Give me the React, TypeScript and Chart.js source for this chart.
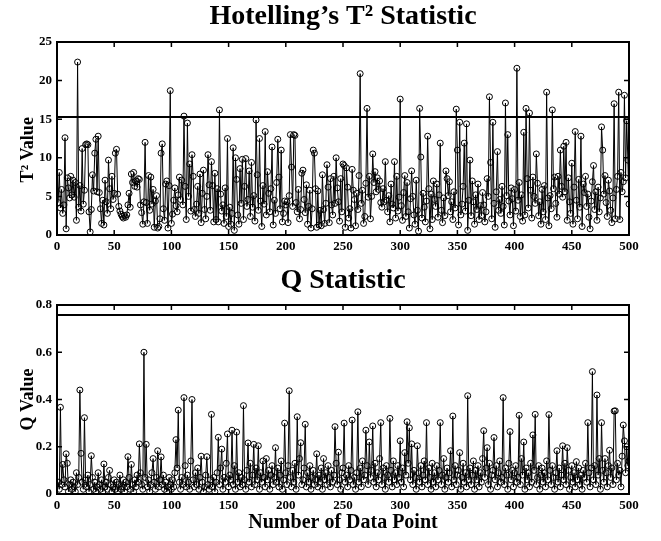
import React, { useEffect, useRef } from "react";
import { Chart, registerables } from "chart.js";

Chart.register(...registerables);

const FONT = "'Liberation Serif', 'Times New Roman', Times, serif";

const T2_TITLE = "Hotelling\u2019s T\u00B2 Statistic";
const Q_TITLE = "Q Statistic";
const T2_YLABEL = "T\u00B2 Value\u00A0\u00A0\u00A0\u00A0\u00A0";
const Q_YLABEL = "Q Value";
const X_LABEL = "Number of Data Point";

const X_MIN = 0;
const X_MAX = 500;
const X_STEP = 50;

const T2_LIMIT = 15.3;
const Q_LIMIT = 0.758;

const T2_VALUES = [
  4.2, 8.1, 3.5, 5.9, 2.8, 3.9, 12.6, 0.8, 7.4, 6.1,
  4.8, 7.6, 5.2, 7.1, 4.9, 6.8, 1.9, 22.4, 3.6, 6.4,
  3.1, 11.2, 4.0, 5.8, 11.7, 11.8, 11.7, 3.0, 0.4, 3.3,
  7.8, 5.7, 10.6, 12.4, 5.6, 12.8, 5.5, 3.4, 1.5, 4.5,
  1.3, 7.1, 4.3, 2.8, 9.7, 6.0, 3.4, 7.6, 4.6, 5.4,
  10.6, 11.1, 5.3, 3.7, 3.1, 2.7, 2.4, 2.2, 2.5, 2.3,
  2.6, 3.9, 5.4, 3.6, 7.9, 6.8, 8.1, 6.3, 7.0, 6.2,
  7.3, 7.2, 3.9, 2.9, 1.4, 4.3, 12.0, 4.2, 1.5, 7.7,
  3.2, 7.5, 4.0, 5.9, 1.0, 4.4, 5.1, 0.9, 1.1, 2.1,
  10.6, 11.8, 3.4, 1.9, 6.6, 7.0, 0.9, 6.4, 18.7, 1.5,
  2.7, 4.5, 6.1, 3.8, 3.0, 5.2, 7.5, 4.6, 7.1, 3.9,
  15.4, 6.3, 2.0, 14.5, 5.0, 9.2, 3.1, 10.4, 7.6, 3.3,
  2.4, 4.0, 6.3, 2.8, 7.9, 1.6, 5.4, 8.4, 3.3, 2.1,
  5.0, 10.4, 6.5, 3.2, 9.5, 6.4, 1.7, 8.0, 2.0, 6.0,
  1.7, 16.2, 5.3, 3.1, 3.9, 1.5, 6.1, 2.4, 12.5, 1.1,
  3.6, 1.4, 2.8, 11.3, 0.6, 10.0, 7.2, 2.6, 1.4, 8.6,
  4.1, 9.8, 2.0, 6.3, 9.9, 3.7, 4.6, 8.3, 2.4, 9.4,
  3.6, 5.1, 1.8, 14.9, 7.8, 3.2, 12.5, 4.4, 1.1, 6.4,
  4.0, 13.4, 2.6, 8.2, 5.4, 3.0, 6.0, 11.4, 1.3, 4.5,
  2.8, 6.8, 12.4, 7.5, 3.4, 11.0, 1.7, 2.8, 4.4, 3.9,
  4.3, 1.6, 5.1, 13.0, 8.8, 3.7, 13.0, 12.9, 4.2, 3.0,
  5.9, 2.1, 3.3, 8.0, 8.4, 4.6, 2.9, 6.5, 1.4, 3.7,
  5.8, 0.9, 3.4, 11.0, 10.6, 6.0, 1.0, 5.7, 1.3, 3.2,
  1.2, 7.8, 3.3, 1.5, 4.1, 9.1, 6.2, 1.6, 7.3, 3.9,
  2.6, 7.6, 4.1, 10.0, 6.1, 4.3, 1.8, 7.3, 3.0, 9.2,
  9.0, 1.0, 8.7, 6.2, 2.2, 3.4, 0.9, 8.5, 5.8, 4.6,
  1.2, 5.4, 3.3, 7.7, 20.9, 4.1, 5.8, 1.5, 2.4, 6.7,
  16.4, 4.9, 7.6, 2.1, 5.0, 10.5, 6.8, 8.2, 5.6, 7.4,
  5.9, 7.0, 4.2, 3.6, 6.0, 4.3, 9.5, 4.5, 3.0, 5.1,
  1.7, 6.6, 4.0, 3.5, 9.5, 2.2, 7.6, 3.1, 4.9, 17.6,
  3.8, 1.9, 5.5, 7.7, 2.4, 6.8, 3.0, 0.9, 4.7, 8.3,
  5.0, 2.6, 1.4, 7.1, 3.2, 0.5, 16.4, 10.1, 2.2, 5.4,
  3.6, 1.7, 4.4, 12.8, 6.0, 0.8, 5.3, 2.0, 7.0, 4.6,
  3.7, 6.6, 2.3, 5.2, 11.9, 3.2, 1.6, 4.8, 2.5, 8.3,
  7.3, 5.1, 6.9, 3.0, 4.3, 2.0, 5.6, 3.5, 16.3, 11.0,
  1.3, 14.6, 2.6, 4.0, 6.3, 11.9, 3.1, 14.4, 0.6, 4.5,
  9.7, 2.5, 7.0, 4.3, 1.4, 5.2, 3.3, 6.6, 2.0, 3.8,
  2.5, 5.5, 3.9, 1.7, 3.0, 7.3, 5.0, 17.9, 9.4, 2.1,
  14.6, 4.1, 1.0, 5.6, 10.8, 3.2, 4.6, 2.8, 6.3, 3.7,
  1.3, 17.1, 5.1, 13.0, 4.4, 2.6, 6.1, 4.7, 1.2, 5.9,
  3.1, 21.6, 4.5, 6.8, 2.4, 5.2, 1.8, 13.3, 2.6, 16.4,
  7.3, 3.5, 15.8, 5.8, 2.2, 7.5, 5.0, 4.1, 10.5, 6.7,
  2.5, 4.3, 1.4, 5.9, 3.0, 6.4, 2.0, 18.5, 4.8, 1.2,
  5.1, 3.4, 16.2, 6.0, 7.5, 4.1, 2.3, 7.6, 5.3, 11.0,
  6.3, 4.9, 11.5, 5.6, 12.0, 1.9, 7.4, 4.3, 2.8, 9.3,
  1.4, 6.2, 13.4, 4.5, 2.1, 7.2, 3.6, 12.8, 1.1, 6.6,
  5.5, 7.6, 3.7, 5.3, 2.3, 0.8, 4.4, 6.9, 9.0, 3.3,
  5.6, 1.9, 6.2, 3.0, 4.8, 14.0, 11.0, 5.3, 7.7, 4.2,
  2.4, 7.1, 5.7, 3.2, 1.6, 4.8, 17.0, 2.1, 5.9, 7.6,
  18.5, 2.0, 8.1, 5.6, 6.9, 18.1, 7.4, 14.8, 9.7, 4.0,
];

const Q_VALUES = [
  0.05, 0.02, 0.367, 0.04, 0.125, 0.06, 0.03, 0.17, 0.13, 0.01,
  0.04, 0.06, 0.02, 0.05, 0.03, 0.01, 0.09, 0.04, 0.07, 0.44,
  0.172, 0.05, 0.02, 0.323, 0.06, 0.03, 0.08, 0.01, 0.04, 0.162,
  0.07, 0.02, 0.05, 0.01, 0.03, 0.09, 0.04, 0.02, 0.06, 0.01,
  0.127, 0.03, 0.05, 0.02, 0.07, 0.10, 0.04, 0.01, 0.03, 0.06,
  0.02, 0.05, 0.01, 0.04, 0.08, 0.02, 0.03, 0.06, 0.01, 0.05,
  0.03, 0.158, 0.07, 0.02, 0.125, 0.04, 0.01, 0.06, 0.03, 0.08,
  0.05, 0.212, 0.09, 0.04, 0.02, 0.60, 0.07, 0.21, 0.03, 0.06,
  0.01, 0.04, 0.09, 0.15, 0.05, 0.02, 0.07, 0.183, 0.03, 0.06,
  0.157, 0.04, 0.08, 0.02, 0.05, 0.01, 0.03, 0.07, 0.04, 0.02,
  0.06, 0.03, 0.09, 0.23, 0.11, 0.355, 0.05, 0.02, 0.07, 0.04,
  0.408, 0.12, 0.03, 0.08, 0.05, 0.02, 0.14, 0.40, 0.06, 0.03,
  0.09, 0.04, 0.11, 0.02, 0.07, 0.16, 0.05, 0.01, 0.03, 0.08,
  0.158, 0.04, 0.02, 0.06, 0.337, 0.03, 0.07, 0.01, 0.05, 0.09,
  0.24, 0.04, 0.11, 0.19, 0.02, 0.07, 0.05, 0.13, 0.254, 0.03,
  0.08, 0.06, 0.27, 0.04, 0.12, 0.02, 0.262, 0.05, 0.09, 0.03,
  0.07, 0.04, 0.374, 0.06, 0.02, 0.10, 0.216, 0.05, 0.13, 0.03,
  0.08, 0.21, 0.04, 0.11, 0.06, 0.204, 0.02, 0.09, 0.05, 0.14,
  0.07, 0.03, 0.15, 0.06, 0.10, 0.02, 0.08, 0.12, 0.04, 0.07,
  0.196, 0.05, 0.11, 0.03, 0.08, 0.14, 0.02, 0.06, 0.30, 0.09,
  0.04, 0.12, 0.437, 0.07, 0.03, 0.10, 0.05, 0.13, 0.02, 0.327,
  0.08, 0.15, 0.217, 0.04, 0.06, 0.11, 0.295, 0.03, 0.09, 0.05,
  0.12, 0.02, 0.07, 0.10, 0.04, 0.06, 0.17, 0.03, 0.08, 0.05,
  0.11, 0.02, 0.15, 0.06, 0.09, 0.04, 0.12, 0.07, 0.03, 0.10,
  0.05, 0.08, 0.285, 0.13, 0.04, 0.177, 0.06, 0.02, 0.09, 0.11,
  0.30, 0.05, 0.08, 0.03, 0.12, 0.06, 0.10, 0.313, 0.04, 0.07,
  0.02, 0.09, 0.348, 0.05, 0.11, 0.03, 0.14, 0.06, 0.08, 0.27,
  0.12, 0.04, 0.22, 0.07, 0.10, 0.288, 0.05, 0.13, 0.03, 0.09,
  0.06, 0.15, 0.302, 0.04, 0.11, 0.07, 0.02, 0.12, 0.08, 0.05,
  0.32, 0.10, 0.03, 0.14, 0.06, 0.09, 0.04, 0.12, 0.07, 0.225,
  0.05, 0.11, 0.03, 0.175, 0.08, 0.306, 0.13, 0.28, 0.06, 0.212,
  0.04, 0.10, 0.07, 0.02, 0.204, 0.09, 0.05, 0.12, 0.03, 0.08,
  0.14, 0.06, 0.302, 0.04, 0.11, 0.07, 0.02, 0.13, 0.05, 0.09,
  0.03, 0.12, 0.06, 0.10, 0.302, 0.04, 0.08, 0.15, 0.02, 0.07,
  0.11, 0.05, 0.09, 0.183, 0.03, 0.33, 0.06, 0.12, 0.04, 0.08,
  0.10, 0.175, 0.02, 0.07, 0.13, 0.05, 0.09, 0.03, 0.416, 0.06,
  0.11, 0.04, 0.08, 0.14, 0.02, 0.10, 0.06, 0.12, 0.03, 0.09,
  0.05, 0.15, 0.268, 0.07, 0.11, 0.196, 0.04, 0.13, 0.02, 0.08,
  0.10, 0.239, 0.06, 0.12, 0.03, 0.09, 0.14, 0.05, 0.07, 0.408,
  0.04, 0.11, 0.08, 0.02, 0.13, 0.264, 0.06, 0.10, 0.03, 0.09,
  0.12, 0.05, 0.07, 0.333, 0.04, 0.15, 0.08, 0.22, 0.02, 0.11,
  0.06, 0.09, 0.03, 0.13, 0.05, 0.25, 0.10, 0.337, 0.04, 0.07,
  0.12, 0.02, 0.08, 0.11, 0.05, 0.09, 0.03, 0.14, 0.06, 0.336,
  0.10, 0.04, 0.12, 0.07, 0.02, 0.09, 0.183, 0.05, 0.11, 0.03,
  0.08, 0.204, 0.06, 0.13, 0.04, 0.196, 0.10, 0.02, 0.07, 0.12,
  0.05, 0.09, 0.03, 0.137, 0.06, 0.11, 0.04, 0.08, 0.02, 0.10,
  0.07, 0.13, 0.05, 0.302, 0.09, 0.03, 0.11, 0.518, 0.06, 0.12,
  0.04, 0.419, 0.08, 0.15, 0.02, 0.302, 0.10, 0.05, 0.15, 0.09,
  0.03, 0.12, 0.185, 0.07, 0.11, 0.04, 0.351, 0.352, 0.06, 0.13,
  0.08, 0.10, 0.03, 0.16, 0.292, 0.225, 0.09, 0.20, 0.12, 0.14,
];

const framePlugin = {
  id: "matlabFrame",
  afterDatasetsDraw(chart: any) {
    const { ctx, chartArea, scales } = chart;
    const { left, right, top, bottom } = chartArea;
    const x = scales.x;
    const y = scales.y;
    ctx.save();
    ctx.strokeStyle = "#000";
    ctx.lineWidth = 1.5;
    ctx.beginPath();
    x.ticks.forEach((t: any) => {
      const px = x.getPixelForValue(t.value);
      ctx.moveTo(px, bottom);
      ctx.lineTo(px, bottom - 5);
      ctx.moveTo(px, top);
      ctx.lineTo(px, top + 5);
    });
    y.ticks.forEach((t: any) => {
      const py = y.getPixelForValue(t.value);
      ctx.moveTo(left, py);
      ctx.lineTo(left + 5, py);
      ctx.moveTo(right, py);
      ctx.lineTo(right - 5, py);
    });
    ctx.stroke();
    ctx.lineWidth = 2;
    ctx.strokeRect(left, top, right - left, bottom - top);
    ctx.restore();
  },
};

function makeConfig(p: {
  values: number[];
  limit: number;
  yMax: number;
  yStep: number;
  title: string;
  yTitle: string;
  xTitle: string | null;
  titlePad: { top: number; bottom: number };
  xAxisHeight: number;
}): any {
  const tickFont = { family: FONT, size: 13, weight: "bold" as const };
  return {
    type: "line",
    data: {
      datasets: [
        {
          data: p.values.map((v, i) => ({ x: i + 1, y: v })),
          borderColor: "#000",
          borderWidth: 1,
          pointRadius: 3,
          pointBorderWidth: 1,
          pointBorderColor: "#000",
          pointBackgroundColor: "rgba(0,0,0,0)",
          tension: 0,
          fill: false,
        },
        {
          data: [
            { x: X_MIN, y: p.limit },
            { x: X_MAX, y: p.limit },
          ],
          borderColor: "#000",
          borderWidth: 2,
          pointRadius: 0,
          fill: false,
        },
      ],
    },
    options: {
      animation: false,
      responsive: false,
      devicePixelRatio: 1,
      layout: { padding: { left: 0, right: 32, top: 0, bottom: 0 } },
      plugins: {
        legend: { display: false },
        tooltip: { enabled: false },
        title: {
          display: true,
          fullSize: false,
          text: p.title,
          color: "#000",
          font: { family: FONT, size: 28, weight: "bold", lineHeight: 1 },
          padding: p.titlePad,
        },
      },
      scales: {
        x: {
          type: "linear",
          min: X_MIN,
          max: X_MAX,
          grid: { display: false, drawTicks: false },
          border: { display: false },
          ticks: {
            stepSize: X_STEP,
            padding: 4,
            color: "#000",
            font: tickFont,
            maxRotation: 0,
            autoSkip: false,
          },
          title: p.xTitle
            ? {
                display: true,
                text: p.xTitle,
                color: "#000",
                font: { family: FONT, size: 20, weight: "bold" },
                padding: { top: 0, bottom: 6 },
              }
            : { display: false },
          afterFit: (s: any) => {
            s.height = p.xAxisHeight;
          },
        },
        y: {
          type: "linear",
          min: 0,
          max: p.yMax,
          grid: { display: false, drawTicks: false },
          border: { display: false },
          ticks: {
            stepSize: p.yStep,
            padding: 5,
            color: "#000",
            font: tickFont,
          },
          title: {
            display: true,
            text: p.yTitle,
            color: "#000",
            font: { family: FONT, size: 18, weight: "bold" },
            padding: { top: 18, bottom: 0 },
          },
          afterFit: (s: any) => {
            s.width = 57;
          },
        },
      },
    },
    plugins: [framePlugin],
  };
}

export default function App() {
  const topRef = useRef<HTMLCanvasElement | null>(null);
  const botRef = useRef<HTMLCanvasElement | null>(null);

  useEffect(() => {
    const c1 = new Chart(
      topRef.current as HTMLCanvasElement,
      makeConfig({
        values: T2_VALUES,
        limit: T2_LIMIT,
        yMax: 25,
        yStep: 5,
        title: T2_TITLE,
        yTitle: T2_YLABEL,
        xTitle: null,
        titlePad: { top: 3, bottom: 11 },
        xAxisHeight: 27,
      })
    );
    const c2 = new Chart(
      botRef.current as HTMLCanvasElement,
      makeConfig({
        values: Q_VALUES,
        limit: Q_LIMIT,
        yMax: 0.8,
        yStep: 0.2,
        title: Q_TITLE,
        yTitle: Q_YLABEL,
        xTitle: X_LABEL,
        titlePad: { top: 5, bottom: 10 },
        xAxisHeight: 47,
      })
    );
    return () => {
      c1.destroy();
      c2.destroy();
    };
  }, []);

  return (
    <div
      style={{
        position: "absolute",
        left: 0,
        top: 0,
        width: 661,
        height: 541,
        background: "#fff",
      }}
    >
      <canvas
        ref={topRef}
        width={661}
        height={262}
        style={{ position: "absolute", left: 0, top: 0, width: 661, height: 262 }}
      />
      <canvas
        ref={botRef}
        width={661}
        height={279}
        style={{ position: "absolute", left: 0, top: 262, width: 661, height: 279 }}
      />
    </div>
  );
}
